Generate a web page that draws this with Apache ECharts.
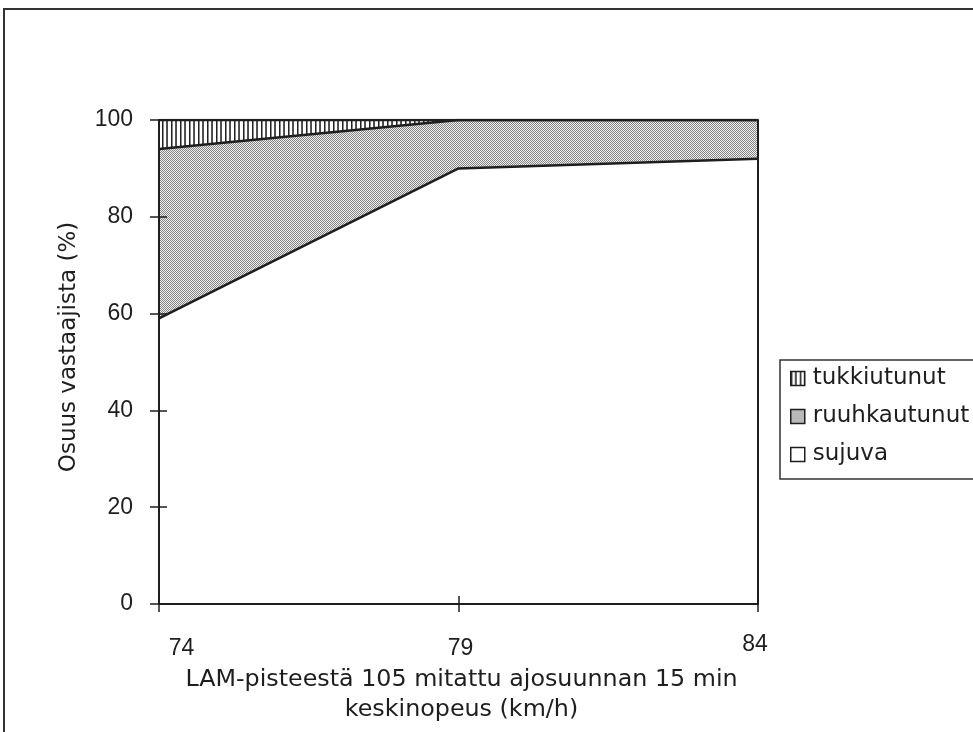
<!DOCTYPE html>
<html>
<head>
<meta charset="utf-8">
<script src="https://cdn.jsdelivr.net/npm/echarts@6/dist/echarts.min.js"></script>
<style>
  html, body { margin: 0; padding: 0; background: #fff; }
  #chart { width: 973px; height: 732px; }
</style>
</head>
<body>
<div id="chart"></div>
<script>
// Average speed classes (km/h) at LAM point 105
const speeds = ['74', '79', '84'];
// Share of respondents (%) per traffic-state rating, stacked bottom to top
const sujuva = [59, 90, 92];
const ruuhkautunut = [35, 10, 8];
const tukkiutunut = [6, 0, 0];
const yTicks = { min: 0, max: 100, interval: 20 };

// Hatch fill: vertical lines
function stripeTile() {
  const c = document.createElement('canvas');
  c.width = 9; c.height = 4;
  const g = c.getContext('2d');
  g.fillStyle = '#ffffff'; g.fillRect(0, 0, 9, 4);
  const cols = [[0, '#222222'], [1, '#8a8a8a'], [4, '#555555'], [5, '#4a4a4a']];
  cols.forEach(([x, col]) => { g.fillStyle = col; g.fillRect(x, 0, 1, 4); });
  return c;
}
// Halftone fill: fine checker of grey dots
function dotTile() {
  const c = document.createElement('canvas');
  c.width = 2; c.height = 2;
  const g = c.getContext('2d');
  g.fillStyle = '#eeeeee'; g.fillRect(0, 0, 2, 2);
  g.fillStyle = '#858585';
  g.fillRect(0, 0, 1, 1);
  g.fillRect(1, 1, 1, 1);
  return c;
}
const stripes = { image: stripeTile(), repeat: 'repeat' };
const dots = { image: dotTile(), repeat: 'repeat' };

const INK = '#1e1e1e';
const NUM_FONT = 'Liberation Sans';
const TXT_FONT = 'DejaVu Sans';

function areaSeries(name, data, fill) {
  return {
    name: name,
    type: 'line',
    stack: 'share',
    data: data,
    showSymbol: false,
    symbol: 'none',
    lineStyle: { color: INK, width: 2.5 },
    areaStyle: { color: fill, opacity: 1 },
    itemStyle: { color: fill, borderColor: INK, borderWidth: 1.5 },
    emphasis: { disabled: true },
    z: 2
  };
}

const chart = echarts.init(document.getElementById('chart'), null, { renderer: 'canvas' });
chart.setOption({
  animation: false,
  backgroundColor: '#ffffff',
  grid: { left: 159, right: 215, top: 120, bottom: 128, containLabel: false },
  graphic: [{
    type: 'rect',
    shape: { x: 4, y: 9, width: 990, height: 760 },
    style: { fill: 'none', stroke: '#333333', lineWidth: 2 },
    silent: true,
    z: 100
  }],
  legend: {
    orient: 'vertical',
    left: 780,
    top: 360,
    padding: [7, 5, 13, 10],
    itemWidth: 14,
    itemHeight: 14,
    itemGap: 15,
    icon: 'rect',
    selectedMode: false,
    backgroundColor: '#ffffff',
    borderColor: '#333333',
    borderWidth: 1.5,
    borderRadius: 0,
    textStyle: { fontFamily: TXT_FONT, fontSize: 23, color: INK, padding: [0, 0, 0, 3] },
    data: [
      { name: 'tukkiutunut', itemStyle: { color: stripes, borderColor: INK, borderWidth: 1.5 } },
      { name: 'ruuhkautunut', itemStyle: { color: dots, borderColor: INK, borderWidth: 1.5 } },
      { name: 'sujuva', itemStyle: { color: '#ffffff', borderColor: INK, borderWidth: 1.5 } }
    ]
  },
  xAxis: [{
    type: 'category',
    data: speeds,
    boundaryGap: false,
    position: 'bottom',
    z: 10,
    axisLine: { show: true, lineStyle: { color: INK, width: 2 } },
    axisTick: { show: true, length: 8, lineStyle: { color: INK, width: 1.5 } },
    axisLabel: {
      margin: 29,
      fontFamily: NUM_FONT,
      fontSize: 23,
      color: INK,
      formatter: function (v, i) { return '{p' + i + '|' + v + '}'; },
      rich: {
        p0: { fontFamily: NUM_FONT, fontSize: 23, color: INK, padding: [4, 0, 0, 45] },
        p1: { fontFamily: NUM_FONT, fontSize: 23, color: INK, padding: [4, 0, 0, 4] },
        p2: { fontFamily: NUM_FONT, fontSize: 23, color: INK, padding: [0, 6, 0, 0] }
      }
    },
    splitLine: { show: false },
    name: 'LAM-pisteestä 105 mitattu ajosuunnan 15 min\nkeskinopeus (km/h)',
    nameLocation: 'middle',
    nameGap: 57,
    nameTextStyle: { fontFamily: TXT_FONT, fontSize: 23.8, color: INK, lineHeight: 30, padding: [0, 0, 0, 6] }
  }, {
    // inner half of the cross tick marks
    type: 'category',
    data: speeds,
    boundaryGap: false,
    position: 'bottom',
    z: 10,
    axisLine: { show: false },
    axisTick: { show: true, inside: true, length: 8, lineStyle: { color: INK, width: 1.5 } },
    axisLabel: { show: false },
    splitLine: { show: false }
  }],
  yAxis: [{
    type: 'value',
    min: yTicks.min,
    max: yTicks.max,
    interval: yTicks.interval,
    position: 'left',
    z: 10,
    axisLine: { show: true, lineStyle: { color: INK, width: 2 } },
    axisTick: { show: true, length: 9, lineStyle: { color: INK, width: 1.5 } },
    axisLabel: { margin: 26, fontFamily: NUM_FONT, fontSize: 23, color: INK },
    splitLine: { show: false },
    name: 'Osuus vastaajista (%)',
    nameLocation: 'middle',
    nameRotate: 90,
    nameGap: 78,
    nameTextStyle: { fontFamily: TXT_FONT, fontSize: 23, color: INK, padding: [0, 0, 0, 30] }
  }, {
    type: 'value',
    min: yTicks.min,
    max: yTicks.max,
    interval: yTicks.interval,
    position: 'left',
    z: 10,
    axisLine: { show: false },
    axisTick: { show: true, inside: true, length: 8, lineStyle: { color: INK, width: 1.5 } },
    axisLabel: { show: false },
    splitLine: { show: false }
  }, {
    // closing edge of the stacked areas at the last category
    type: 'value',
    min: yTicks.min,
    max: yTicks.max,
    interval: yTicks.interval,
    position: 'right',
    z: 10,
    axisLine: { show: true, lineStyle: { color: INK, width: 2 } },
    axisTick: { show: false },
    axisLabel: { show: false },
    splitLine: { show: false }
  }],
  series: [
    areaSeries('sujuva', sujuva, '#ffffff'),
    areaSeries('ruuhkautunut', ruuhkautunut, dots),
    areaSeries('tukkiutunut', tukkiutunut, stripes)
  ]
});
</script>
</body>
</html>
